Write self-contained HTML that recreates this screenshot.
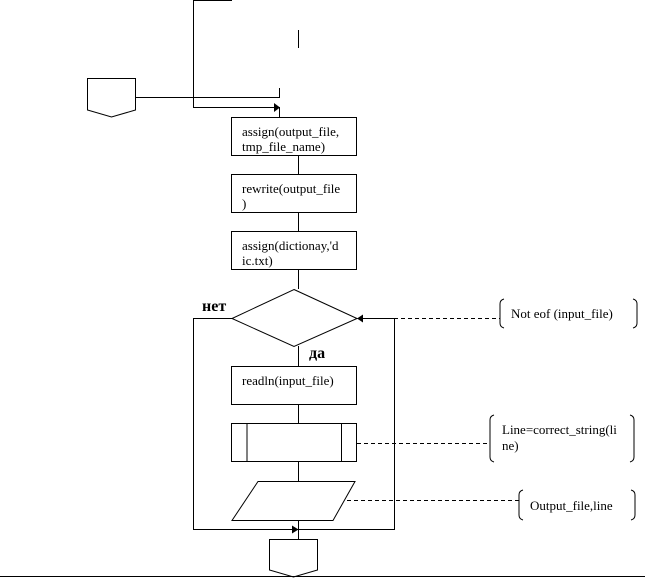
<!DOCTYPE html>
<html><head><meta charset="utf-8"><style>
html,body{margin:0;padding:0;background:#fff;width:645px;height:579px;overflow:hidden}
svg text{font-family:"Liberation Serif","DejaVu Serif",serif;font-size:13px;fill:#000}
</style></head><body>
<svg width="645" height="579" viewBox="0 0 645 579" xmlns="http://www.w3.org/2000/svg">
<g fill="none" stroke="#000" stroke-width="1">
<polyline points="232,0.5 193.5,0.5 193.5,107.5 274,107.5"/>
<line x1="298.5" y1="30" x2="298.5" y2="48"/>
<polygon points="87.5,78.5 135.5,78.5 135.5,110 111.5,117 87.5,110"/>
<polyline points="136,97.5 279.5,97.5 279.5,88"/>
<line x1="279.5" y1="107" x2="279.5" y2="117"/>
<rect x="231.5" y="117.5" width="125" height="38"/>
<line x1="298.5" y1="155" x2="298.5" y2="174"/>
<rect x="231.5" y="174.5" width="125" height="38"/>
<line x1="298.5" y1="213" x2="298.5" y2="231"/>
<rect x="231.5" y="231.5" width="125" height="38"/>
<line x1="298.5" y1="270" x2="298.5" y2="289"/>
<polygon points="294,289.5 357,318.5 294,346.5 232,318.5"/>
<line x1="298.5" y1="346" x2="298.5" y2="366"/>
<polyline points="232,318.5 193.5,318.5 193.5,529.5 394.5,529.5 394.5,318.5 362,318.5"/>
<rect x="231.5" y="366.5" width="125" height="38"/>
<line x1="298.5" y1="405" x2="298.5" y2="423"/>
<rect x="231.5" y="423.5" width="125" height="38"/>
<line x1="247" y1="423.5" x2="247" y2="461.5"/>
<line x1="341.5" y1="423.5" x2="341.5" y2="461.5"/>
<line x1="298.5" y1="462" x2="298.5" y2="481"/>
<polygon points="258,481.5 355,481.5 333,520.5 232,520.5"/>
<line x1="298.5" y1="520" x2="298.5" y2="539"/>
<polygon points="269.5,539.5 317.5,539.5 317.5,570 293.5,577 269.5,570"/>
<line x1="0" y1="576.5" x2="645" y2="576.5"/>
<line x1="394" y1="318.5" x2="500" y2="318.5" stroke-dasharray="4,3"/>
<line x1="357" y1="443.5" x2="490" y2="443.5" stroke-dasharray="4,3"/>
<line x1="347" y1="500.5" x2="519" y2="500.5" stroke-dasharray="4,3"/>
<path d="M504,299 Q500,300 500,304 L500,323 Q500,327 504,328"/>
<path d="M633,299 Q637,300 637,304 L637,323 Q637,327 633,328"/>
<path d="M494,415 Q490,416 490,420 L490,457 Q490,461 494,462"/>
<path d="M630,415 Q634,416 634,420 L634,457 Q634,461 630,462"/>
<path d="M523,490 Q519,491 519,495 L519,515 Q519,519 523,520"/>
<path d="M631,490 Q635,491 635,495 L635,515 Q635,519 631,520"/>
</g>
<polygon points="274,103 280,107.5 274,112" fill="#000"/>
<polygon points="357,318.5 363,314.5 363,322.5" fill="#000"/>
<polygon points="292,525.5 298.5,529.5 292,533.5" fill="#000"/>
<text x="242" y="136">assign(output_file,</text>
<text x="242" y="151">tmp_file_name)</text>
<text x="242" y="193">rewrite(output_file</text>
<text x="242" y="208">)</text>
<text x="242" y="250">assign(dictionay,'d</text>
<text x="242" y="265">ic.txt)</text>
<text x="242" y="385">readln(input_file)</text>
<text x="202" y="311" style="font-size:16px;font-weight:bold">нет</text>
<text x="309" y="358" style="font-size:16px;font-weight:bold">да</text>
<text x="511" y="318">Not eof (input_file)</text>
<text x="502" y="434">Line=correct_string(li</text>
<text x="502" y="450">ne)</text>
<text x="530" y="510">Output_file,line</text>
</svg>
</body></html>
